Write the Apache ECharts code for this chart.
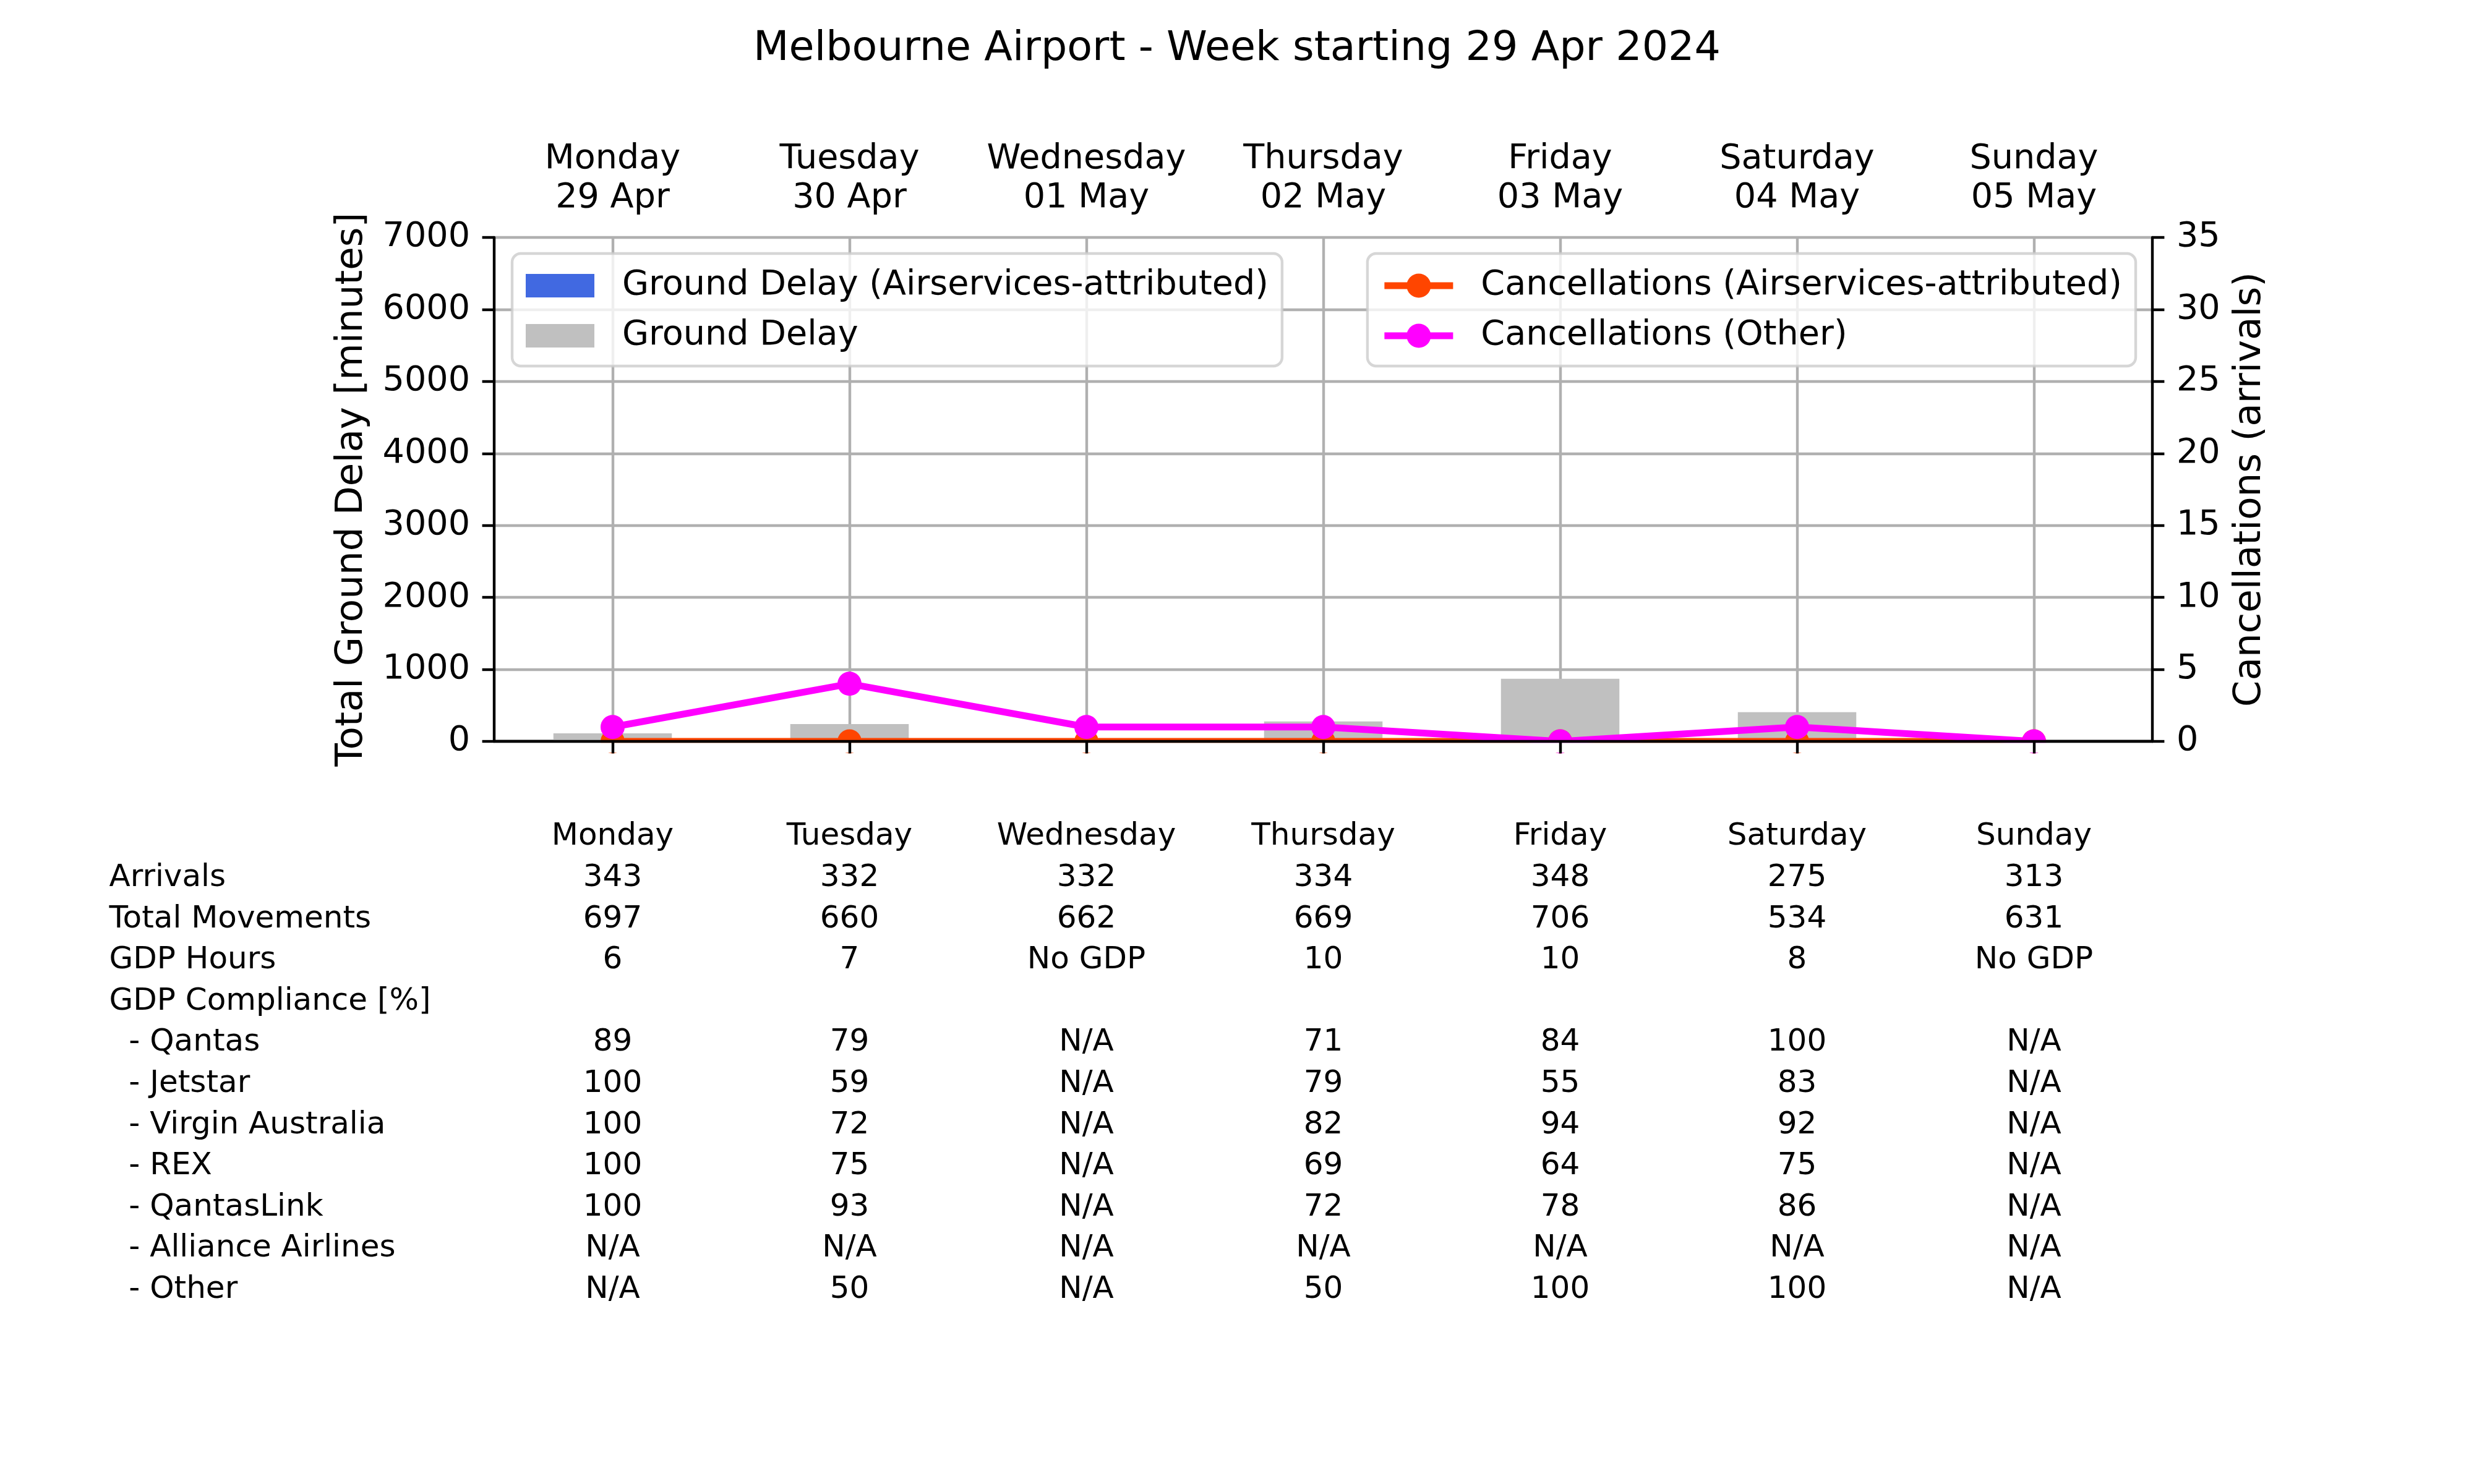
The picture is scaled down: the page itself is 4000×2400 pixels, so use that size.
<!DOCTYPE html>
<html>
<head>
<meta charset="utf-8">
<script src="https://cdn.jsdelivr.net/npm/echarts@6/dist/echarts.min.js"></script>
<style>html,body{margin:0;padding:0;background:#fff}#c{width:4000px;height:2400px}</style>
</head>
<body>
<div id="c"></div>
<script>
// ---- data ----
const days = ['Monday', 'Tuesday', 'Wednesday', 'Thursday', 'Friday', 'Saturday', 'Sunday'];
const dates = ['29 Apr', '30 Apr', '01 May', '02 May', '03 May', '04 May', '05 May'];
const groundDelayAirservices = [0, 0, 0, 0, 0, 0, 0];
const groundDelay = [112, 240, 0, 277, 869, 406, 0];
const cancellationsAirservices = [0, 0, 0, 0, 0, 0, 0];
const cancellationsOther = [1, 4, 1, 1, 0, 1, 0];
const delayAxis = { min: 0, max: 7000, interval: 1000 };
const cancAxis = { min: 0, max: 35, interval: 5 };

const tableRowLabels = ['Arrivals', 'Total Movements', 'GDP Hours', 'GDP Compliance [%]',
  '  - Qantas', '  - Jetstar', '  - Virgin Australia', '  - REX', '  - QantasLink',
  '  - Alliance Airlines', '  - Other'];
const arrivals = ['343', '332', '332', '334', '348', '275', '313'];
const totalMovements = ['697', '660', '662', '669', '706', '534', '631'];
const gdpHours = ['6', '7', 'No GDP', '10', '10', '8', 'No GDP'];
const gdpCompliance = ['', '', '', '', '', '', ''];
const qantas = ['89', '79', 'N/A', '71', '84', '100', 'N/A'];
const jetstar = ['100', '59', 'N/A', '79', '55', '83', 'N/A'];
const virginAustralia = ['100', '72', 'N/A', '82', '94', '92', 'N/A'];
const rex = ['100', '75', 'N/A', '69', '64', '75', 'N/A'];
const qantasLink = ['100', '93', 'N/A', '72', '78', '86', 'N/A'];
const allianceAirlines = ['N/A', 'N/A', 'N/A', 'N/A', 'N/A', 'N/A', 'N/A'];
const otherAirlines = ['N/A', '50', 'N/A', '50', '100', '100', 'N/A'];
const tableRows = [arrivals, totalMovements, gdpHours, gdpCompliance, qantas, jetstar,
  virginAustralia, rex, qantasLink, allianceAirlines, otherAirlines];

// ---- style ----
const FONT = 'DejaVu Sans';
const FS = 55.6;
const NFS = 61.1;
const LW = 4.4;
const GRID = { left: 799, right: 520, top: 384, bottom: 1201 };
const axisLineStyle = { color: '#000', width: LW };
const gridLineStyle = { color: '#b0b0b0', width: LW };
const plainNum = function (v) { return String(v); };

const chart = echarts.init(document.getElementById('c'), null, { renderer: 'canvas', width: 4000, height: 2400 });

const legendCommon = {
  orient: 'vertical',
  top: 410,
  itemWidth: 111,
  itemGap: 25,
  padding: [24, 22, 21, 22],
  backgroundColor: 'rgba(255,255,255,0.8)',
  borderColor: 'rgba(204,204,204,0.8)',
  borderWidth: 4.4,
  borderRadius: 14,
  selectedMode: false,
  z: 6
};

const option = {
  animation: false,
  backgroundColor: '#fff',
  title: {
    text: 'Melbourne Airport - Week starting 29 Apr 2024',
    left: 'center',
    top: 35,
    textStyle: { fontFamily: FONT, fontSize: 66.7, fontWeight: 'normal', color: '#000', lineHeight: 80 }
  },
  grid: { left: GRID.left, right: GRID.right, top: GRID.top, bottom: GRID.bottom, containLabel: false },
  legend: [
    Object.assign({}, legendCommon, {
      data: [{ name: 'Ground Delay (Airservices-attributed)', icon: 'rect' }, { name: 'Ground Delay', icon: 'rect' }],
      left: 828,
      itemHeight: 38,
      textStyle: { fontFamily: FONT, fontSize: FS, color: '#000', padding: [0, 0, 0, 40] }
    }),
    Object.assign({}, legendCommon, {
      data: [{ name: 'Cancellations (Airservices-attributed)' }, { name: 'Cancellations (Other)' }],
      right: 547,
      itemHeight: 49,
      lineStyle: { width: 11 },
      textStyle: { fontFamily: FONT, fontSize: FS, color: '#000', padding: [0, 0, 0, 40] }
    })
  ],
  xAxis: [
    {
      type: 'category', data: days, position: 'bottom', boundaryGap: true, z: 0,
      axisLine: { show: false }, axisTick: { show: false }, axisLabel: { show: false },
      splitLine: { show: true, alignWithLabel: true, interval: 0, lineStyle: gridLineStyle }
    },
    {
      type: 'category', data: days, position: 'top', boundaryGap: true,
      axisLine: { show: true, lineStyle: axisLineStyle }, axisTick: { show: false },
      axisLabel: {
        show: true, interval: 0, fontFamily: FONT, fontSize: FS, color: '#000', lineHeight: 63, margin: 32,
        formatter: function (v, i) { return v + '\n' + dates[i]; }
      },
      splitLine: { show: false }
    },
    {
      type: 'category', data: days, position: 'bottom', boundaryGap: true, z: 10,
      axisLine: { show: true, lineStyle: axisLineStyle },
      axisTick: { show: true, alignWithLabel: true, interval: 0, length: 19.4, lineStyle: axisLineStyle },
      axisLabel: { show: false }, splitLine: { show: false }
    }
  ],
  yAxis: [
    {
      type: 'value', position: 'left', min: delayAxis.min, max: delayAxis.max, interval: delayAxis.interval,
      name: 'Total Ground Delay [minutes]', nameLocation: 'middle', nameGap: 199,
      nameTextStyle: { fontFamily: FONT, fontSize: NFS, color: '#000', lineHeight: 61 },
      axisLine: { show: true, lineStyle: axisLineStyle },
      axisTick: { show: true, length: 19.4, lineStyle: axisLineStyle },
      axisLabel: { fontFamily: FONT, fontSize: FS, color: '#000', margin: 39, formatter: plainNum },
      splitLine: { show: true, lineStyle: gridLineStyle }
    },
    {
      type: 'value', position: 'right', min: cancAxis.min, max: cancAxis.max, interval: cancAxis.interval,
      name: 'Cancellations (arrivals)', nameLocation: 'middle', nameGap: 128,
      nameTextStyle: { fontFamily: FONT, fontSize: NFS, color: '#000', lineHeight: 61 },
      axisLine: { show: true, lineStyle: axisLineStyle },
      axisTick: { show: true, length: 19.4, lineStyle: axisLineStyle },
      axisLabel: { fontFamily: FONT, fontSize: FS, color: '#000', margin: 39, formatter: plainNum },
      splitLine: { show: false }
    }
  ],
  series: [
    {
      name: 'Ground Delay', type: 'bar', xAxisIndex: 0, yAxisIndex: 0, data: groundDelay,
      barWidth: '50%', barGap: '-100%', itemStyle: { color: '#c0c0c0' }
    },
    {
      name: 'Ground Delay (Airservices-attributed)', type: 'bar', xAxisIndex: 0, yAxisIndex: 0,
      data: groundDelayAirservices, barWidth: '50%', barGap: '-100%', itemStyle: { color: '#4169e1' }
    },
    {
      name: 'Cancellations (Airservices-attributed)', type: 'line', xAxisIndex: 0, yAxisIndex: 1,
      data: cancellationsAirservices, symbol: 'circle', symbolSize: 39, showAllSymbol: true,
      lineStyle: { width: 11, color: '#ff4500' }, itemStyle: { color: '#ff4500' }
    },
    {
      name: 'Cancellations (Other)', type: 'line', xAxisIndex: 0, yAxisIndex: 1,
      data: cancellationsOther, symbol: 'circle', symbolSize: 39, showAllSymbol: true,
      lineStyle: { width: 11, color: '#ff00ff' }, itemStyle: { color: '#ff00ff' }
    }
  ]
};
chart.setOption(option);

// ---- table and clip mask, positioned from the chart's own axes ----
const colX = days.map(function (d) { return chart.convertToPixel({ xAxisIndex: 0 }, d); });
const zeroY = chart.convertToPixel({ yAxisIndex: 0 }, 0);
const TFS = 50;
const rowStep = 66.6;
const firstRowMid = 1420;
const labelX = 176.5;
const graphics = [];
// white mask hides the part of marks that falls below the x axis (like matplotlib clipping)
graphics.push({
  type: 'rect', z: 5,
  shape: { x: GRID.left, y: zeroY + 2.2, width: 4000 - GRID.left - GRID.right, height: 16 },
  style: { fill: '#fff' }
});
function txt(s, x, y, align) {
  return {
    type: 'text', z: 20, x: x, y: y,
    style: { text: s, fontFamily: FONT, fontSize: TFS, fill: '#000', align: align, verticalAlign: 'middle' }
  };
}
days.forEach(function (d, i) { graphics.push(txt(d, colX[i], firstRowMid - rowStep, 'center')); });
tableRowLabels.forEach(function (lab, r) {
  const y = firstRowMid + r * rowStep;
  graphics.push(txt(lab, labelX, y, 'left'));
  tableRows[r].forEach(function (v, i) { if (v !== '') graphics.push(txt(v, colX[i], y, 'center')); });
});
chart.setOption({ graphic: graphics });
</script>
</body>
</html>
